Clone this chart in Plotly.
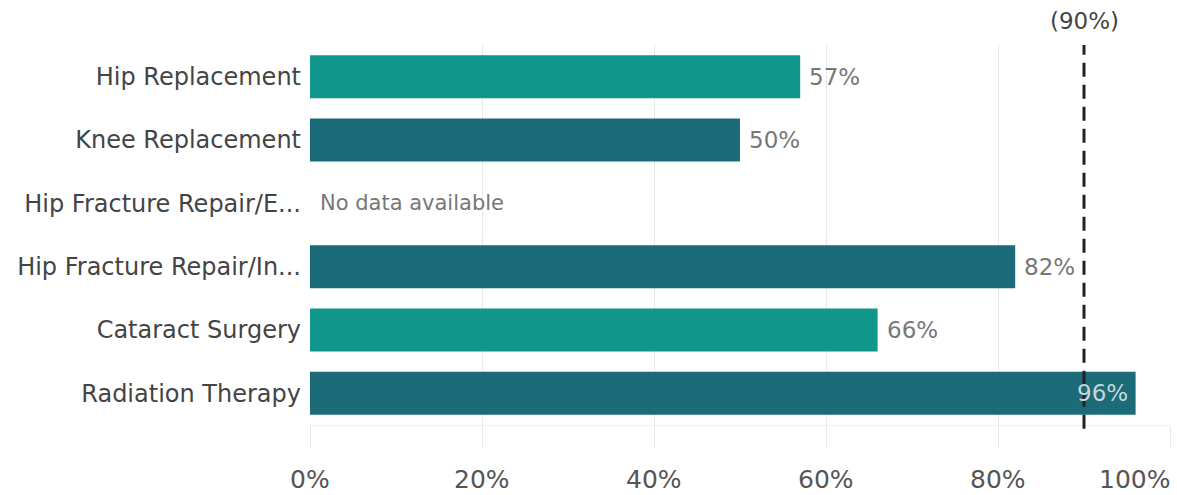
import plotly.graph_objects as go

# Share of procedures meeting the target, by procedure type
procedures = [
    "Hip Replacement",
    "Knee Replacement",
    "Hip Fracture Repair/E...",
    "Hip Fracture Repair/In...",
    "Cataract Surgery",
    "Radiation Therapy",
]
shares = [57, 50, None, 82, 66, 96]
bar_colors = ["#10968a", "#1b6b78", "#1b6b78", "#1b6b78", "#10968a", "#1b6b78"]
target = 90
x_ticks = [0, 20, 40, 60, 80, 100]
x_tick_labels = ["0%", "20%", "40%", "60%", "80%", "100%"]
no_data_text = "No data available"

FONT = "DejaVu Sans"
GRID = "#e8e8e8"
LABEL_GRAY = "#777777"

fig = go.Figure(
    go.Bar(
        y=procedures,
        x=[0 if v is None else v for v in shares],
        orientation="h",
        marker=dict(color=bar_colors, line=dict(width=0)),
        hoverinfo="skip",
    )
)

# Value labels: outside the bar end, or inside when the bar passes the target
for name, v in zip(procedures, shares):
    if v is None:
        fig.add_annotation(
            x=0, y=name, xref="x", yref="y",
            text=no_data_text, showarrow=False,
            xanchor="left", xshift=8,
            font=dict(family=FONT, size=21, color=LABEL_GRAY),
        )
    elif v > target:
        fig.add_annotation(
            x=v, y=name, xref="x", yref="y",
            text=f"{v}%", showarrow=False,
            xanchor="right", xshift=-6,
            font=dict(family=FONT, size=23, color="#c9d5d8"),
        )
    else:
        fig.add_annotation(
            x=v, y=name, xref="x", yref="y",
            text=f"{v}%", showarrow=False,
            xanchor="left", xshift=7,
            font=dict(family=FONT, size=23, color=LABEL_GRAY),
        )

# X tick labels; the last one is kept inside the page edge
for i, (t, lab) in enumerate(zip(x_ticks, x_tick_labels)):
    last = i == len(x_ticks) - 1
    fig.add_annotation(
        x=t, y=0, xref="x", yref="paper",
        text=lab, showarrow=False,
        xanchor="right" if last else "center",
        xshift=2 if last else 0,
        yanchor="middle", yshift=-54,
        font=dict(family=FONT, size=25, color="#555555"),
    )

# Target reference line
fig.add_shape(
    type="line", xref="x", yref="paper",
    x0=target, x1=target, y0=-0.01, y1=1,
    line=dict(color="#222222", width=3, dash="14px,8px"),
)
fig.add_annotation(
    x=target, y=1, xref="x", yref="paper",
    text=f"({target}%)", showarrow=False,
    yanchor="bottom", yshift=9,
    font=dict(family=FONT, size=23, color="#444444"),
)

fig.update_layout(
    width=1177, height=495,
    margin=dict(l=310, r=7, t=45, b=70),
    paper_bgcolor="white", plot_bgcolor="white",
    bargap=0.32,
    showlegend=False,
    font=dict(family=FONT, color="#444444"),
    xaxis=dict(
        range=[0, 100],
        tickvals=x_ticks,
        showticklabels=False,
        showgrid=True, gridcolor=GRID, gridwidth=1,
        zeroline=False,
        ticks="outside", ticklen=22, tickcolor=GRID, tickwidth=1,
        showline=True, linecolor="#f0f0f0", linewidth=1,
    ),
    yaxis=dict(
        autorange="reversed",
        showgrid=False, zeroline=False,
        ticks="", ticklabelstandoff=8,
        tickfont=dict(family=FONT, size=24, color="#444444"),
        showline=False,
    ),
)

fig.write_html("out.html")
